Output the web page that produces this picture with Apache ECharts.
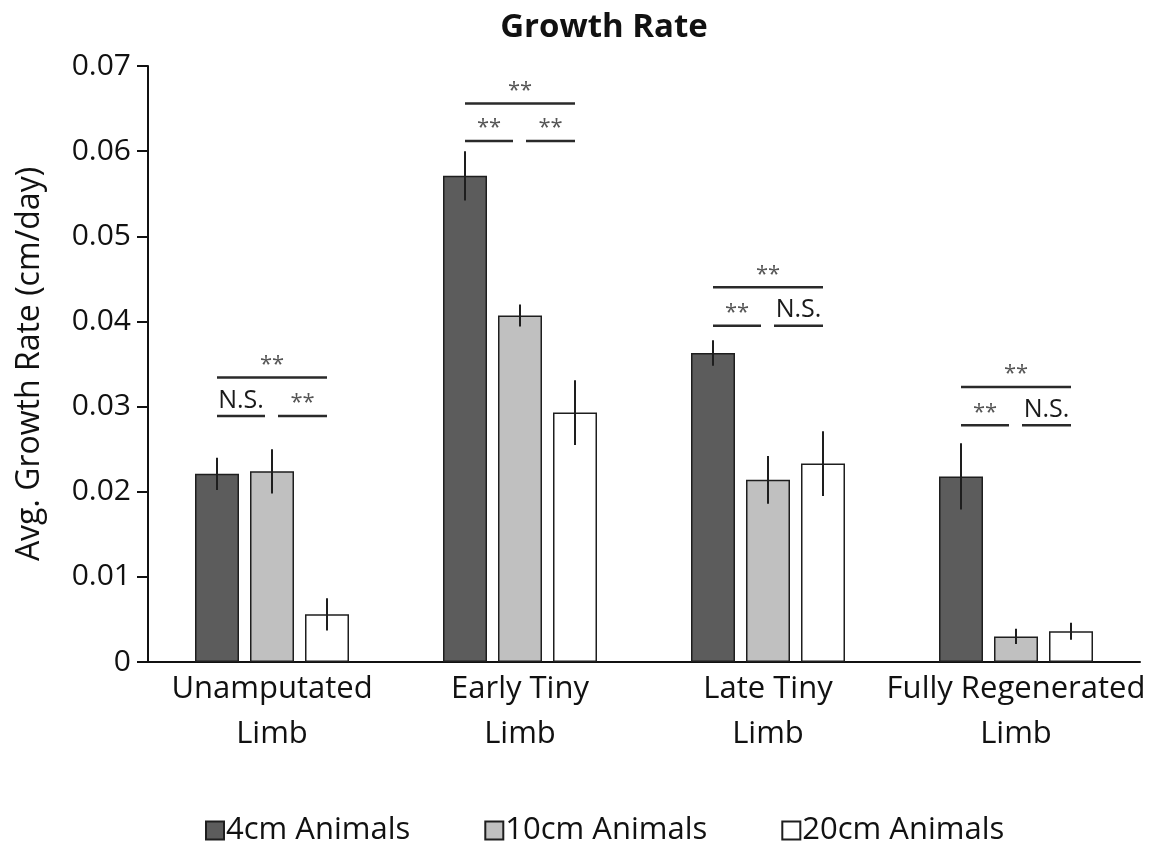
<!DOCTYPE html>
<html>
<head>
<meta charset="utf-8">
<title>Growth Rate</title>
<script src="https://cdn.jsdelivr.net/npm/echarts@6/dist/echarts.min.js"></script>
<style>
  html, body { margin: 0; padding: 0; background: #ffffff; }
  #chart { width: 1162px; height: 843px; }
</style>
</head>
<body>
<div id="chart"></div>
<script>
// ---- data ----
const categories = ['Unamputated\nLimb', 'Early Tiny\nLimb', 'Late Tiny\nLimb', 'Fully Regenerated\nLimb'];
const seriesNames = ['4cm Animals', '10cm Animals', '20cm Animals'];

const mean4cm  = [0.0221, 0.0571, 0.0363, 0.0218];
const mean10cm = [0.0224, 0.0407, 0.0214, 0.0030];
const mean20cm = [0.0056, 0.0293, 0.0233, 0.0036];

const err4cm  = [0.0019, 0.0029, 0.0015, 0.0039];
const err10cm = [0.0026, 0.0013, 0.0028, 0.0009];
const err20cm = [0.0019, 0.0038, 0.0038, 0.0010];

// significance brackets: category index, first bar, last bar, bracket height (cm/day)
const sigCategory = [0, 0, 0, 1, 1, 1, 2, 2, 2, 3, 3, 3];
const sigFrom     = [0, 0, 1, 0, 0, 1, 0, 0, 1, 0, 0, 1];
const sigTo       = [2, 1, 2, 2, 1, 2, 2, 1, 2, 2, 1, 2];
const sigHeight   = [0.0334, 0.0289, 0.0289, 0.0656, 0.0612, 0.0612, 0.0440, 0.0395, 0.0395, 0.0323, 0.0278, 0.0278];
const sigLabel    = ['**', 'N.S.', '**', '**', '**', '**', '**', '**', 'N.S.', '**', '**', 'N.S.'];

const yTickLabels = ['0', '0.01', '0.02', '0.03', '0.04', '0.05', '0.06', '0.07'];

// ---- styling ----
const FONT = '"Open Sans", "Noto Sans", sans-serif';
const BAR_W = 44;
const BAR_GAP = 11;
const STEP = BAR_W + BAR_GAP;
const INNER_TRIM = 7;
const fills = ['#5c5c5c', '#c0c0c0', '#ffffff'];
const means = [mean4cm, mean10cm, mean20cm];
const errs = [err4cm, err10cm, err20cm];

const chart = echarts.init(document.getElementById('chart'), null, { renderer: 'canvas' });

function errorBarRenderer(s) {
  return function (params, api) {
    const ci = api.value(0);
    const x = api.coord([ci, 0])[0] + (s - 1) * STEP;
    const top = api.coord([ci, api.value(1) + api.value(2)])[1];
    const bottom = api.coord([ci, api.value(1) - api.value(2)])[1];
    return {
      type: 'line',
      shape: { x1: x, y1: top, x2: x, y2: bottom },
      style: { stroke: '#1e1e1e', lineWidth: 2 }
    };
  };
}

function bracketRenderer(params, api) {
  const i = params.dataIndex;
  const ci = api.value(0);
  const from = api.value(1);
  const to = api.value(2);
  const cx = api.coord([ci, 0])[0];
  const y = api.coord([ci, api.value(3)])[1];
  let x1 = cx + (from - 1) * STEP;
  let x2 = cx + (to - 1) * STEP;
  if (to === 1) x2 -= INNER_TRIM;
  if (from === 1) x1 += INNER_TRIM - 1;
  const label = sigLabel[i];
  const isStars = label === '**';
  return {
    type: 'group',
    children: [
      {
        type: 'line',
        shape: { x1: x1, y1: y, x2: x2, y2: y },
        style: { stroke: '#2a2a2a', lineWidth: 2.5 }
      },
      {
        type: 'text',
        style: {
          text: label,
          x: (x1 + x2) / 2,
          y: isStars ? y - 2 : y - 3,
          align: 'center',
          verticalAlign: 'bottom',
          font: (isStars ? '22px ' : '25px ') + FONT,
          fill: isStars ? '#555555' : '#1a1a1a'
        }
      }
    ]
  };
}

const barSeries = seriesNames.map((name, s) => ({
  name: name,
  type: 'bar',
  data: means[s],
  barWidth: BAR_W,
  barGap: (BAR_GAP / BAR_W * 100) + '%',
  itemStyle: { color: fills[s], borderColor: '#1e1e1e', borderWidth: 1.5 },
  emphasis: { disabled: true },
  z: 2
}));

const errorSeries = seriesNames.map((name, s) => ({
  name: name + ' error',
  type: 'custom',
  renderItem: errorBarRenderer(s),
  data: categories.map((c, i) => [i, means[s][i], errs[s][i]]),
  encode: { x: 0, y: 1 },
  z: 5,
  silent: true
}));

const bracketSeries = {
  name: 'significance',
  type: 'custom',
  renderItem: bracketRenderer,
  data: sigCategory.map((c, i) => [c, sigFrom[i], sigTo[i], sigHeight[i]]),
  encode: { x: 0, y: 3 },
  z: 6,
  silent: true
};

chart.setOption({
  animation: false,
  backgroundColor: '#ffffff',
  textStyle: { fontFamily: FONT },
  graphic: [{
    type: 'text',
    x: 604,
    y: 28,
    style: {
      text: 'Growth Rate',
      align: 'center',
      verticalAlign: 'middle',
      font: 'bold 33px ' + FONT,
      fill: '#111111'
    }
  }],
  grid: { left: 148, right: 22, top: 66, bottom: 181, containLabel: false },
  legend: {
    data: seriesNames,
    left: 200,
    top: 810,
    icon: 'rect',
    itemWidth: 18,
    itemHeight: 18,
    itemGap: 74,
    textStyle: { fontSize: 31, fontFamily: FONT, color: '#111111', padding: [0, 0, 0, -3] },
    selectedMode: false
  },
  xAxis: {
    type: 'category',
    data: categories,
    axisLine: { lineStyle: { color: '#111111', width: 2 } },
    axisTick: { show: false },
    axisLabel: {
      color: '#111111',
      fontSize: 31,
      lineHeight: 45,
      margin: 5,
      interval: 0,
      fontFamily: FONT
    }
  },
  yAxis: {
    type: 'value',
    min: 0,
    max: 0.07,
    interval: 0.01,
    name: 'Avg. Growth Rate (cm/day)',
    nameLocation: 'middle',
    nameGap: 102,
    nameTextStyle: { fontSize: 32, color: '#111111', fontFamily: FONT },
    axisLine: { show: true, lineStyle: { color: '#111111', width: 2 } },
    axisTick: { show: true, length: 11, lineStyle: { color: '#111111', width: 2 } },
    splitLine: { show: false },
    axisLabel: {
      color: '#111111',
      fontSize: 30,
      margin: 17,
      fontFamily: FONT,
      formatter: function (v) { return yTickLabels[Math.round(v * 100)]; }
    }
  },
  series: barSeries.concat(errorSeries, [bracketSeries])
});
</script>
</body>
</html>
